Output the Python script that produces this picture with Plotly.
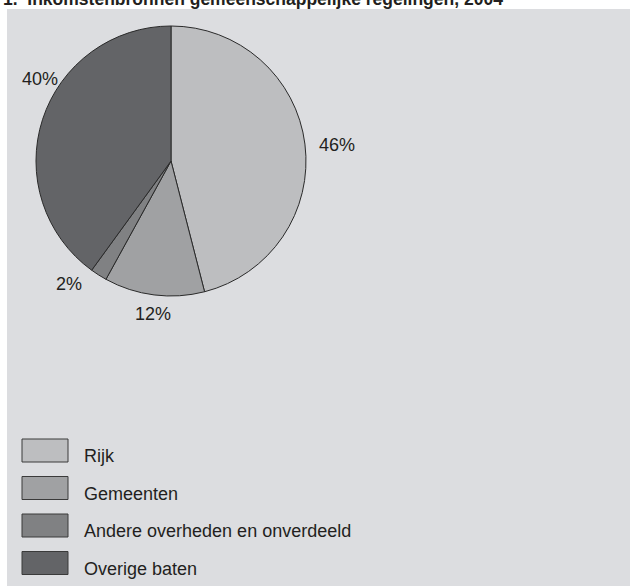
import math
import plotly.graph_objects as go

title = "1.  Inkomstenbronnen gemeenschappelijke regelingen, 2004"
categories = ["Rijk", "Gemeenten", "Andere overheden en onverdeeld", "Overige baten"]
values = [46, 12, 2, 40]
colors = ["#bdbec0", "#a0a1a3", "#808183", "#636467"]

W, H = 630, 586
FONT = "Liberation Sans, Arial, sans-serif"

def px(x):
    return x / W

def py(y):
    return 1 - y / H

# pie geometry (pixels)
cx, cy, r = 171, 161, 135

fig = go.Figure()
fig.add_trace(go.Pie(
    labels=categories,
    values=values,
    sort=False,
    direction="clockwise",
    rotation=0,
    marker=dict(colors=colors, line=dict(color="#2a2a2a", width=1)),
    textinfo="none",
    hoverinfo="label+percent",
    showlegend=False,
    domain=dict(x=[px(cx - r), px(cx + r)], y=[py(cy + r), py(cy - r)]),
))

shapes = [dict(type="rect", xref="paper", yref="paper",
               x0=px(7), x1=1, y0=0, y1=py(9),
               fillcolor="#dcdde0", line=dict(width=0), layer="below")]
annotations = [dict(text="<b>" + title + "</b>", xref="paper", yref="paper",
                    x=px(1), y=py(-1), xanchor="left", yanchor="middle",
                    showarrow=False, font=dict(family=FONT, size=17.5, color="#231f20"))]

# percent labels outside the slices (label distance and angular nudge per slice)
total = sum(values)
label_r = [167, 154, 160, 154]
label_nudge_deg = [1.7, -0.5, 7.3, 14]
cum = 0
for v, lr, nd in zip(values, label_r, label_nudge_deg):
    mid = (cum + v / 2) / total * 2 * math.pi + math.radians(nd)
    cum += v
    lx = cx + lr * math.sin(mid)
    ly = cy - lr * math.cos(mid)
    annotations.append(dict(text=f"{round(v / total * 100)}%", xref="paper", yref="paper",
                            x=px(lx), y=py(ly), xanchor="center", yanchor="middle",
                            showarrow=False, font=dict(family=FONT, size=18, color="#231f20")))

# custom legend
for i, (cat, col) in enumerate(zip(categories, colors)):
    top = 439 + i * 37.5
    shapes.append(dict(type="rect", xref="paper", yref="paper",
                       x0=px(22), x1=px(68), y0=py(top + 23), y1=py(top),
                       fillcolor=col, line=dict(color="#3a3a3a", width=1)))
    annotations.append(dict(text=cat, xref="paper", yref="paper",
                            x=px(82), y=py(top + 17), xanchor="left", yanchor="middle",
                            showarrow=False, font=dict(family=FONT, size=18, color="#231f20")))

fig.update_layout(
    width=W, height=H,
    margin=dict(l=0, r=0, t=0, b=0),
    paper_bgcolor="white",
    plot_bgcolor="white",
    shapes=shapes,
    annotations=annotations,
)

fig.write_html("out.html", config={"displayModeBar": False},
               post_script="document.body.style.margin='0';")
